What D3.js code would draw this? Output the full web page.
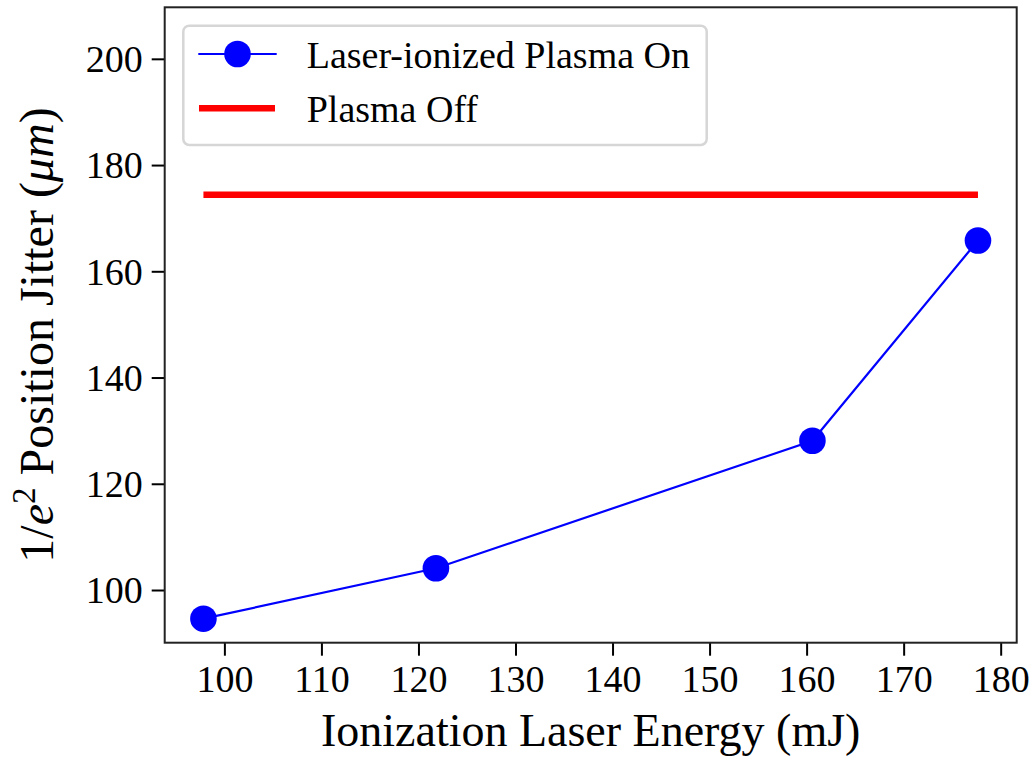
<!DOCTYPE html>
<html>
<head>
<meta charset="utf-8">
<script src="https://cdn.jsdelivr.net/npm/d3@7"></script>
<style>
  body { margin: 0; background: #fff; }
  svg text { font-family: "Liberation Serif", "DejaVu Serif", serif; fill: #000; }
</style>
</head>
<body>
<div id="chart"></div>
<script>
// data
var energy = [97.84, 121.8, 160.6, 177.66];     // mJ
var jitterOn = [94.6, 104.1, 128.1, 165.8];     // um, plasma on
var jitterOff = 174.4;                          // um, plasma off (flat)
var xTicks = [100, 110, 120, 130, 140, 150, 160, 170, 180];
var yTicks = [100, 120, 140, 160, 180, 200];
var legendLabels = ["Laser-ionized Plasma On", "Plasma Off"];

var W = 1035, H = 761;
var margin = {top: 7.3, right: 18.3, bottom: 118.3, left: 164.7};
var width = W - margin.left - margin.right;
var height = H - margin.top - margin.bottom;

var svg = d3.select("#chart").append("svg")
    .attr("width", W)
    .attr("height", H);

var g = svg.append("g")
    .attr("transform", "translate(" + margin.left + "," + margin.top + ")");

// matplotlib style 5% padding on x
var xmin = d3.min(energy), xmax = d3.max(energy);
var pad = (xmax - xmin) * 0.05;
var x = d3.scaleLinear().domain([xmin - pad, xmax + pad]).range([0, width]);
var y = d3.scaleLinear().domain([90.08, 209.7]).range([height, 0]);

// plasma off line
g.append("line")
    .attr("x1", x(xmin)).attr("x2", x(xmax))
    .attr("y1", y(jitterOff)).attr("y2", y(jitterOff))
    .attr("stroke", "#ff0000")
    .attr("stroke-width", 6.5);

// plasma on line + markers
var line = d3.line()
    .x(function(d, i) { return x(energy[i]); })
    .y(function(d) { return y(d); });

g.append("path")
    .datum(jitterOn)
    .attr("fill", "none")
    .attr("stroke", "#0000ff")
    .attr("stroke-width", 2.2)
    .attr("d", line);

g.selectAll(".dot")
    .data(jitterOn)
    .enter().append("circle")
    .attr("cx", function(d, i) { return x(energy[i]); })
    .attr("cy", function(d) { return y(d); })
    .attr("r", 13.3)
    .attr("fill", "#0000ff");

// axes
var xAxis = g.append("g")
    .attr("transform", "translate(0," + height + ")")
    .call(d3.axisBottom(x).tickValues(xTicks).tickSize(13).tickPadding(9).tickSizeOuter(0));
var yAxis = g.append("g")
    .call(d3.axisLeft(y).tickValues(yTicks).tickSize(13).tickPadding(9).tickSizeOuter(0));

[xAxis, yAxis].forEach(function(a) {
    a.select(".domain").remove();
    a.selectAll(".tick line").attr("stroke", "#000").attr("stroke-width", 2);
    a.selectAll(".tick text")
        .style("font-size", "38px")
        .style("font-family", "Liberation Serif");
});
yAxis.selectAll(".tick text").attr("dy", "0.34em");

// frame
g.append("rect")
    .attr("width", width).attr("height", height)
    .attr("fill", "none")
    .attr("stroke", "#222")
    .attr("stroke-width", 2);

// axis labels
svg.append("text")
    .attr("x", margin.left + width / 2)
    .attr("y", 745.5)
    .attr("text-anchor", "middle")
    .style("font-size", "46px")
    .text("Ionization Laser Energy (mJ)");

var yl = svg.append("text")
    .attr("transform", "translate(53,335) rotate(-90)")
    .attr("text-anchor", "middle")
    .style("font-size", "48px");
yl.append("tspan").text("1/");
yl.append("tspan").style("font-style", "italic").text("e");
yl.append("tspan").attr("dy", -18).style("font-size", "33px").text("2");
yl.append("tspan").attr("dy", 18).text(" Position Jitter (");
yl.append("tspan").style("font-style", "italic").text("\u03bcm");
yl.append("tspan").text(")");

// legend
var lg = svg.append("g");
lg.append("rect")
    .attr("x", 183.3).attr("y", 25.7)
    .attr("width", 706.7 - 183.3).attr("height", 145 - 25.7)
    .attr("rx", 6)
    .attr("fill", "#fff")
    .attr("stroke", "#d6d6d6")
    .attr("stroke-width", 2.5);

lg.append("line")
    .attr("x1", 198.3).attr("x2", 276.7).attr("y1", 54).attr("y2", 54)
    .attr("stroke", "#0000ff").attr("stroke-width", 2.2);
lg.append("circle")
    .attr("cx", 237.5).attr("cy", 54).attr("r", 13.3)
    .attr("fill", "#0000ff");
lg.append("line")
    .attr("x1", 199).attr("x2", 275).attr("y1", 108.3).attr("y2", 108.3)
    .attr("stroke", "#ff0000").attr("stroke-width", 6.5);

lg.selectAll(".lab")
    .data(legendLabels)
    .enter().append("text")
    .attr("x", 306.7)
    .attr("y", function(d, i) { return 68.3 + i * 53.4; })
    .style("font-size", "38px")
    .text(function(d) { return d; });
</script>
</body>
</html>
